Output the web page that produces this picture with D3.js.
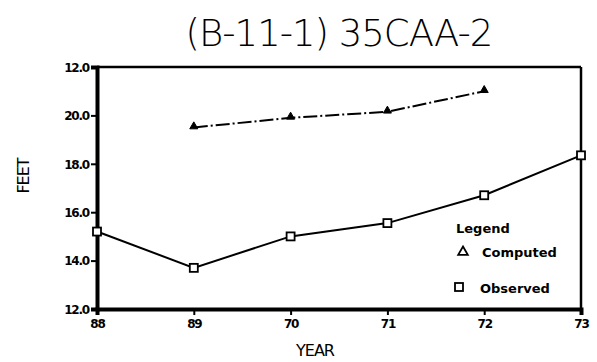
<!DOCTYPE html>
<html>
<head>
<meta charset="utf-8">
<script src="https://cdn.jsdelivr.net/npm/d3@7"></script>
<style>
  body { margin: 0; background: #fff; }
  svg { display: block; }
</style>
</head>
<body>
<svg id="chart" width="597" height="362"></svg>
<script>
const years = [68, 69, 70, 71, 72, 73];
const xTickLabels = ["88", "89", "70", "71", "72", "73"];
const yTicks = [12, 14, 16, 18, 20, 22];
const yTickLabels = ["12.0", "14.0", "16.0", "18.0", "20.0", "12.0"];
const observedYears = [68, 69, 70, 71, 72, 73];
const observed = [15.2, 13.7, 15.0, 15.55, 16.7, 18.35];
const computedYears = [69, 70, 71, 72];
const computed = [19.5, 19.9, 20.15, 21.0];

const svg = d3.select("#chart");
const margin = { left: 97, right: 16, top: 67, bottom: 53 };
const width = 597, height = 362;

const x = d3.scaleLinear().domain([68, 73]).range([margin.left, width - margin.right]);
const y = d3.scaleLinear().domain([12, 22]).range([height - margin.bottom, margin.top]);

// title
svg.append("text")
    .attr("x", (x.range()[0] + x.range()[1]) / 2)
    .attr("y", 46)
    .attr("text-anchor", "middle")
    .attr("font-family", "DejaVu Sans")
    .attr("font-weight", 200)
    .attr("font-size", 37)
    .attr("letter-spacing", -1)
    .text("(B-11-1) 35CAA-2");

// frame: thick left/bottom, thinner top/right
const x0 = x.range()[0], x1 = x.range()[1], yTop = y.range()[1], yBot = y.range()[0];
svg.append("line").attr("x1", x0).attr("x2", x1).attr("y1", yTop).attr("y2", yTop)
    .attr("stroke", "#000").attr("stroke-width", 2.5);
svg.append("line").attr("x1", x1).attr("x2", x1).attr("y1", yTop).attr("y2", yBot)
    .attr("stroke", "#000").attr("stroke-width", 2.5);

// axes
const yAxis = d3.axisLeft(y).tickValues(yTicks).tickSize(6).tickPadding(2)
    .tickFormat((d, i) => yTickLabels[i]);
const xAxis = d3.axisBottom(x).tickValues(years).tickSize(6).tickPadding(4)
    .tickFormat((d, i) => xTickLabels[i]);

const gy = svg.append("g").attr("transform", `translate(${x0},0)`).call(yAxis);
const gx = svg.append("g").attr("transform", `translate(0,${yBot})`).call(xAxis);
[gx, gy].forEach(g => {
    g.select(".domain").attr("stroke", "#000").attr("stroke-width", 4);
    g.selectAll(".tick line").attr("stroke", "#000").attr("stroke-width", 2);
    g.selectAll("text")
        .attr("fill", "#000")
        .attr("font-family", "DejaVu Sans")
        .attr("font-weight", "bold")
        .attr("font-size", 12)
        .attr("letter-spacing", -1.2);
});
gy.selectAll("text").attr("dy", "0.35em");

// axis titles
svg.append("text")
    .attr("transform", "translate(29,176) rotate(-90)")
    .attr("text-anchor", "middle")
    .attr("font-family", "DejaVu Sans")
    .attr("font-size", 16)
    .attr("letter-spacing", -1)
    .text("FEET");
svg.append("text")
    .attr("x", 315).attr("y", 356)
    .attr("text-anchor", "middle")
    .attr("font-family", "DejaVu Sans")
    .attr("font-size", 16)
    .attr("letter-spacing", -1)
    .text("YEAR");

// observed series
const obsPts = observedYears.map((d, i) => [x(d), y(observed[i])]);
svg.append("path")
    .attr("d", d3.line()(obsPts))
    .attr("fill", "none").attr("stroke", "#000").attr("stroke-width", 2);
svg.append("g").selectAll("rect").data(obsPts).join("rect")
    .attr("x", d => d[0] - 4).attr("y", d => d[1] - 4)
    .attr("width", 8).attr("height", 8)
    .attr("fill", "#fff").attr("stroke", "#000").attr("stroke-width", 1.8);

// computed series (dash-dot)
const compPts = computedYears.map((d, i) => [x(d), y(computed[i])]);
svg.append("path")
    .attr("d", d3.line()(compPts))
    .attr("fill", "none").attr("stroke", "#000").attr("stroke-width", 2)
    .attr("stroke-dasharray", "14,3,2,3");
const tri = d3.symbol().type(d3.symbolTriangle).size(28);
svg.append("g").selectAll("path").data(compPts).join("path")
    .attr("transform", d => `translate(${d[0]},${d[1] - 1})`)
    .attr("d", tri)
    .attr("fill", "#000").attr("stroke", "#000").attr("stroke-width", 1);

// legend
const lg = svg.append("g")
    .attr("font-family", "DejaVu Sans")
    .attr("font-weight", "bold")
    .attr("font-size", 13);
lg.append("text").attr("x", 456).attr("y", 233).text("Legend");
lg.append("path")
    .attr("transform", "translate(463,252)")
    .attr("d", d3.symbol().type(d3.symbolTriangle).size(40))
    .attr("fill", "#fff").attr("stroke", "#000").attr("stroke-width", 1.8);
lg.append("text").attr("x", 482).attr("y", 257).text("Computed");
lg.append("rect").attr("x", 455).attr("y", 283).attr("width", 8).attr("height", 8)
    .attr("fill", "#fff").attr("stroke", "#000").attr("stroke-width", 1.8);
lg.append("text").attr("x", 480).attr("y", 293).text("Observed");
</script>
</body>
</html>
